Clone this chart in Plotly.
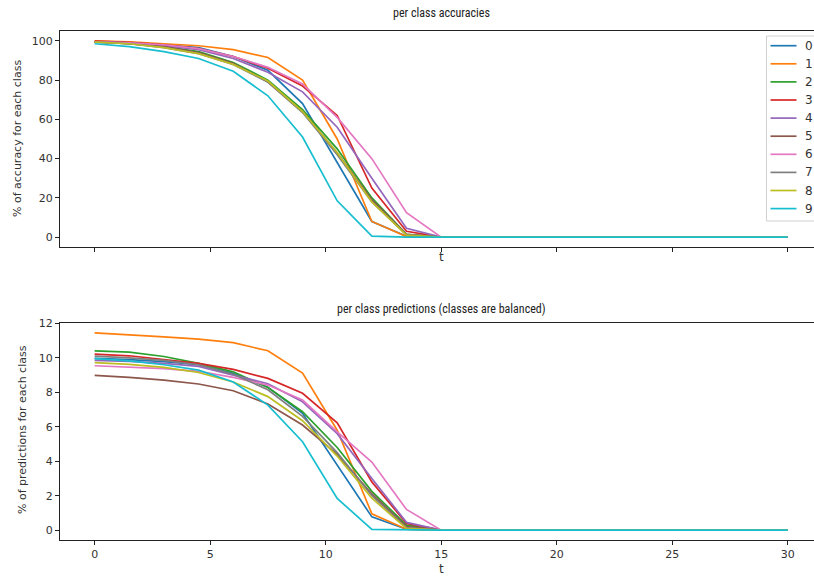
import plotly.graph_objects as go

t = [0, 1.5, 3, 4.5, 6, 7.5, 9, 10.5, 12, 13.5, 15,
     16.5, 18, 19.5, 21, 22.5, 24, 25.5, 27, 28.5, 30]

classes = ["0", "1", "2", "3", "4", "5", "6", "7", "8", "9"]
colors = ["#1f77b4", "#ff7f0e", "#2ca02c", "#d62728", "#9467bd",
          "#8c564b", "#e377c2", "#7f7f7f", "#bcbd22", "#17becf"]

Z = [0] * 10
acc_0 = [99.5, 99, 98, 96.5, 92, 85, 68, 38, 8, 0.5, 0] + Z
acc_1 = [100, 99.5, 98.5, 97.5, 95.5, 91.5, 80, 50, 8, 0.3, 0] + Z
acc_2 = [99.5, 98.5, 97, 94.5, 89, 80, 65, 45, 20, 1.5, 0] + Z
acc_3 = [99.8, 99.2, 98, 96, 92, 86, 77, 62, 25, 3, 0] + Z
acc_4 = [99.5, 99, 97.5, 95.5, 91, 84, 74, 56, 30, 4.5, 0] + Z
acc_5 = [99.5, 98.5, 97, 94, 88.5, 79, 64, 43, 19, 1.5, 0] + Z
acc_6 = [99.5, 99, 98, 96, 92, 86.5, 78, 61, 40, 12.5, 0] + Z
acc_7 = [99.3, 98.5, 96.5, 93.5, 88, 79, 63.5, 42, 18, 1.2, 0] + Z
acc_8 = [99.3, 98.5, 96.5, 93.5, 88, 79.5, 64, 43, 18, 1, 0] + Z
acc_9 = [98.5, 97, 94.5, 91, 84.5, 72, 51, 18.5, 0.5, 0, 0] + Z

pred_0 = [9.97, 9.9, 9.78, 9.6, 9.1, 8.3, 6.78, 3.8, 0.77, 0.05, 0] + Z
pred_1 = [11.45, 11.35, 11.22, 11.09, 10.88, 10.41, 9.12, 5.8, 0.95, 0.05, 0] + Z
pred_2 = [10.41, 10.33, 10.08, 9.68, 9.19, 8.28, 6.87, 4.8, 2.25, 0.29, 0] + Z
pred_3 = [10.22, 10.12, 9.9, 9.68, 9.33, 8.81, 7.94, 6.23, 2.8, 0.39, 0] + Z
pred_4 = [9.85, 9.8, 9.68, 9.5, 9.0, 8.5, 7.45, 5.6, 3.0, 0.45, 0] + Z
pred_5 = [8.98, 8.87, 8.71, 8.48, 8.09, 7.32, 6.1, 4.4, 2.1, 0.2, 0] + Z
pred_6 = [9.54, 9.47, 9.38, 9.22, 8.87, 8.42, 7.55, 5.7, 3.95, 1.2, 0] + Z
pred_7 = [10.1, 10.0, 9.85, 9.6, 9.05, 8.15, 6.6, 4.5, 2.0, 0.15, 0] + Z
pred_8 = [9.72, 9.62, 9.45, 9.15, 8.6, 7.75, 6.35, 4.3, 1.85, 0.1, 0] + Z
pred_9 = [9.96, 9.82, 9.6, 9.29, 8.6, 7.26, 5.13, 1.84, 0.04, 0, 0] + Z

accs = [acc_0, acc_1, acc_2, acc_3, acc_4, acc_5, acc_6, acc_7, acc_8, acc_9]
preds = [pred_0, pred_1, pred_2, pred_3, pred_4, pred_5, pred_6, pred_7, pred_8, pred_9]

x_ticks = [0, 5, 10, 15, 20, 25, 30]
acc_ticks = [0, 20, 40, 60, 80, 100]
pred_ticks = [0, 2, 4, 6, 8, 10, 12]

fig = go.Figure()
for i, c in enumerate(classes):
    fig.add_trace(go.Scatter(x=t, y=accs[i], mode="lines", name=c,
                             line=dict(color=colors[i], width=1.7),
                             xaxis="x", yaxis="y", showlegend=False))
for i, c in enumerate(classes):
    fig.add_trace(go.Scatter(x=t, y=preds[i], mode="lines", name=c,
                             line=dict(color=colors[i], width=1.7),
                             xaxis="x2", yaxis="y2", showlegend=False))

W, H = 814, 577
L_, R_, T_, B_ = 60, 814, 31, 540
ml, mr, mt, mb = L_, W - R_, T_, H - B_
pw = W - ml - mr
ph = H - mt - mb
ppu = (788 - 95) / 30.0
xr = [-1.5, -1.5 + pw / ppu]

def px(x):
    return (x - L_) / pw

def py(y):
    return 1 - (y - T_) / ph

tickfont = dict(family="DejaVu Sans", size=11, color="#333")
axcommon = dict(showgrid=False, zeroline=False, showline=True, linecolor="#222",
                linewidth=1, ticks="outside", ticklen=4, tickcolor="#222",
                tickfont=tickfont, automargin=False)

top_dom = [py(247), 1.0]
bot_dom = [0.0, py(323)]

fig.update_layout(
    width=W, height=H,
    margin=dict(l=ml, r=mr, t=mt, b=mb, autoexpand=False),
    plot_bgcolor="white", paper_bgcolor="white",
    font=dict(family="DejaVu Sans", size=11, color="#333"),
    xaxis=dict(domain=[0, 1], range=xr, tickvals=x_ticks, showticklabels=False,
               anchor="y", mirror=True, **axcommon),
    yaxis=dict(domain=top_dom, range=[-5, 105], tickvals=acc_ticks, anchor="x",
               **axcommon),
    xaxis2=dict(domain=[0, 1], range=xr, tickvals=x_ticks, anchor="y2",
                mirror=True, **axcommon),
    yaxis2=dict(domain=bot_dom, range=[-0.5725, 12.0225], tickvals=pred_ticks,
                anchor="x2", **axcommon),
    showlegend=False,
)

# legend drawn manually: the reference crops it at the right edge
row0, drow = 45.7, 18.1
shapes = [dict(type="rect", xref="paper", yref="paper",
               x0=px(766.5), x1=px(830), y0=py(221), y1=py(36),
               line=dict(color="#d0d0d0", width=1), fillcolor="rgba(255,255,255,0)",
               layer="below")]
for i, c in enumerate(classes):
    yy = row0 + drow * i
    shapes.append(dict(type="line", xref="paper", yref="paper",
                       x0=px(770.5), x1=px(796.5), y0=py(yy), y1=py(yy),
                       line=dict(color=colors[i], width=1.7), layer="above"))
    fig.add_annotation(text=c, xref="paper", yref="paper", x=px(809), y=py(yy),
                       xanchor="center", yanchor="middle", showarrow=False,
                       font=dict(family="DejaVu Sans", size=12, color="#333"))
fig.update_layout(shapes=shapes)

titlefont = dict(family="Noto Sans Condensed, Roboto Condensed, Liberation Sans Narrow, Liberation Sans",
                 size=12, color="#222")
ann = [
    dict(text="per class accuracies", x=441, y=13, font=titlefont),
    dict(text="per class predictions (classes are balanced)", x=441, y=309, font=titlefont),
    dict(text="t", x=441, y=257, font=dict(family="DejaVu Sans", size=12, color="#333")),
    dict(text="t", x=441, y=569, font=dict(family="DejaVu Sans", size=12, color="#333")),
    dict(text="% of accuracy for each class", x=17, y=139, textangle=-90,
         font=dict(family="DejaVu Sans", size=11, color="#333")),
    dict(text="% of predictions for each class", x=22, y=430, textangle=-90,
         font=dict(family="DejaVu Sans", size=11, color="#333")),
]
for a in ann:
    fig.add_annotation(text=a["text"], xref="paper", yref="paper",
                       x=px(a["x"]), y=py(a["y"]),
                       xanchor="center", yanchor="middle", showarrow=False,
                       font=a["font"], textangle=a.get("textangle", 0))

# remove the default 8px page margin so the figure fills the window exactly
fig.write_html("out.html",
               config={"displayModeBar": False, "staticPlot": True},
               post_script="document.body.style.margin='0';document.body.style.overflow='hidden';")
